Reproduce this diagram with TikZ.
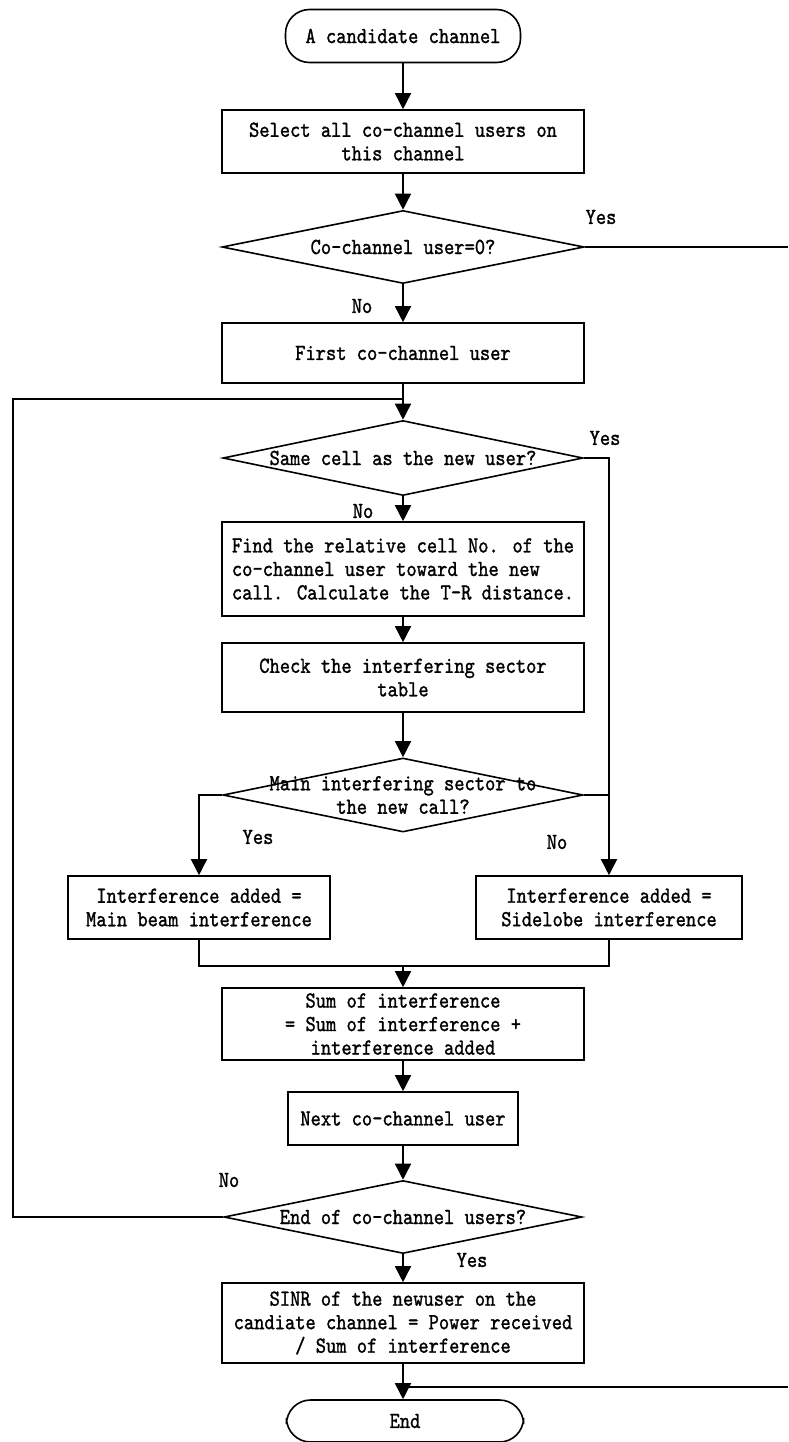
\documentclass[tikz,border=0pt]{standalone}
\usepackage{fontspec}
\usetikzlibrary{arrows.meta,shapes.geometric}
\newfontfamily\flowfont{lmmono10-regular}[Extension=.otf,FakeStretch=0.85,FakeBold=1.2]

\tikzset{
  every node/.style={font=\flowfont\fontsize{23}{23.5}\selectfont},
  line/.style={line width=1.6pt},
  arr/.style={line width=1.6pt,-{Triangle[length=16pt,width=16pt]}},
  procbox/.style={draw,line width=1.6pt,rectangle,inner sep=0pt,align=center},
  term/.style={draw,line width=1.6pt,rectangle,rounded corners=24pt,inner sep=0pt},
  decision/.style={draw,line width=1.6pt,diamond,inner sep=0pt},
  tag/.style={inner sep=0pt},
  mainw/.style={minimum width=362pt}
}

\begin{document}
\begin{tikzpicture}[x=1pt,y=-1pt]
  \path[fill=white] (0,0) rectangle (788,1442);
  \useasboundingbox (0,0) rectangle (788,1442);

  % main column
  \node[term, minimum width=235pt, minimum height=53pt] (start) at (403,36) {A candidate channel};
  \node[procbox, mainw, minimum height=63pt] (select) at (403,141.5) {Select all co-channel users on\\this channel};
  \node[decision, minimum width=362pt, minimum height=73pt] (d1) at (403,247) {};
  \node[tag] (d1t) at (d1.center) {Co-channel user=0?};
  \node[procbox, mainw, minimum height=60pt] (first) at (403,353) {First co-channel user};
  \node[decision, minimum width=360pt, minimum height=75pt] (d2) at (403,458) {};
  \node[tag] (d2t) at (d2.center) {Same cell as the new user?};
  \node[procbox, mainw, minimum height=94pt, align=left] (find) at (403,569) {Find the relative cell No. of the\\co-channel user toward the new\\call. Calculate the T-R distance.};
  \node[procbox, mainw, minimum height=69pt] (check) at (403,677.5) {Check the interfering sector\\table};
  \node[decision, minimum width=360pt, minimum height=74pt] (d3) at (403,795) {};
  \node[tag, align=center] (d3t) at (d3.center) {Main interfering sector to\\the new call?};
  \node[procbox, minimum width=262pt, minimum height=63pt] (intL) at (199,907.5) {Interference added =\\Main beam interference};
  \node[procbox, minimum width=266pt, minimum height=63pt] (intR) at (609,907.5) {Interference added =\\Sidelobe interference};
  \node[procbox, mainw, minimum height=72pt] (sum) at (403,1024) {Sum of interference\\= Sum of interference +\\interference added};
  \node[procbox, minimum width=230pt, minimum height=53pt] (next) at (403,1118.5) {Next co-channel user};
  \node[decision, minimum width=358pt, minimum height=73pt] (d4) at (403,1217) {};
  \node[tag] (d4t) at (d4.center) {End of co-channel users?};
  \node[procbox, mainw, minimum height=80pt] (sinr) at (403,1323) {SINR of the newuser on the\\candiate channel = Power received\\/ Sum of interference};
  \node[term, minimum width=237pt, minimum height=42pt] (end) at (405,1421) {End};

  % branch labels
  \node[tag] (yes1) at (601,217) {Yes};
  \node[tag] (no1) at (362,306) {No};
  \node[tag] (yes2) at (605,438) {Yes};
  \node[tag] (no2) at (363,511) {No};
  \node[tag] (yes3) at (258,837) {Yes};
  \node[tag] (no3) at (557,842) {No};
  \node[tag] (no4) at (229,1180) {No};
  \node[tag] (yes4) at (472,1260) {Yes};

  % junction points
  \coordinate (yesout) at (788,247);
  \coordinate (j1) at (403,399);
  \coordinate (merge) at (403,966);
  \coordinate (lpb) at (13,1217);
  \coordinate (lpt) at (13,399);
  \coordinate (yesin) at (788,1387);
  \coordinate (j2) at (403,1387);

  % connectors
  \draw[arr] (start) -- (select);
  \draw[arr] (select) -- (d1);
  \draw[line] (d1.east) -- (yesout);
  \draw[arr] (d1) -- (first);
  \draw[line] (first) -- (j1);
  \draw[arr] (j1) -- (d2);
  \draw[arr] (d2.east) -| (intR.north);
  \draw[arr] (d2) -- (find);
  \draw[arr] (find) -- (check);
  \draw[arr] (check) -- (d3);
  \draw[arr] (d3.west) -| (intL.north);
  \draw[line] (d3.east) -- (d3.east -| intR.north);
  \draw[line] (intL.south) |- (merge) -| (intR.south);
  \draw[arr] (merge) -- (sum);
  \draw[arr] (sum) -- (next);
  \draw[arr] (next) -- (d4);
  \draw[arr] (d4) -- (sinr);
  \draw[line] (d4.west) -- (lpb) -- (lpt) -- (j1);
  \draw[arr] (sinr.south) -- (sinr.south |- end.north);
  \draw[line] (yesin) -- (j2);
\end{tikzpicture}
\end{document}
